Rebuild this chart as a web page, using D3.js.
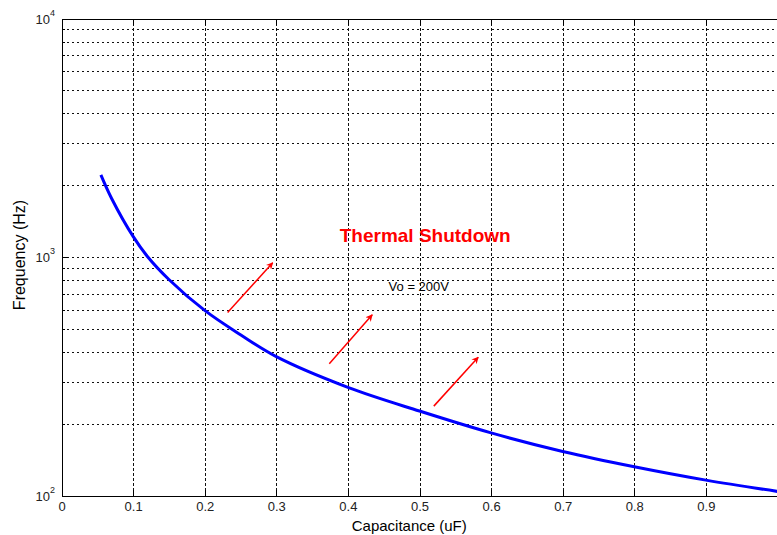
<!DOCTYPE html>
<html>
<head>
<meta charset="utf-8">
<script src="https://cdn.jsdelivr.net/npm/d3@7"></script>
<style>
  html, body { margin: 0; padding: 0; background: #fff; }
  svg { display: block; font-family: Arial, "Liberation Sans", sans-serif; }
  .grid line { stroke: #111; stroke-dasharray: 2.5,2.5; shape-rendering: crispEdges; }
  .grid path { display: none; }
  .ax path, .ax line { stroke: #000; shape-rendering: crispEdges; }
  .ax text { fill: #222; font-size: 13px; }
</style>
</head>
<body>
<svg id="chart" width="777" height="535"></svg>
<script>
// curve: capacitance (uF) vs frequency (Hz)
var capacitance = [0.055, 0.07, 0.1, 0.12, 0.15, 0.2, 0.25, 0.3, 0.4, 0.5, 0.6, 0.7, 0.8, 0.9, 1.0];
var frequency   = [2210, 1760, 1220, 1005, 805, 597, 472, 382, 284, 226, 183, 153, 132, 116, 104];

var xTicks = [0, 0.1, 0.2, 0.3, 0.4, 0.5, 0.6, 0.7, 0.8, 0.9];
var xTickLabels = ["0", "0.1", "0.2", "0.3", "0.4", "0.5", "0.6", "0.7", "0.8", "0.9"];
var yMajor = [100, 1000, 10000];
var yExponents = ["2", "3", "4"];
var yMinor = [200, 300, 400, 500, 600, 700, 800, 900,
              2000, 3000, 4000, 5000, 6000, 7000, 8000, 9000];

// arrow annotations, [capacitance, frequency] tail -> tip
var arrowTails = [[0.232, 585], [0.374, 357], [0.520, 237]];
var arrowTips  = [[0.295, 946], [0.434, 572], [0.582, 380]];

var svg = d3.select("#chart"),
    margin = { left: 61.5, top: 18.5, right: 777.5, bottom: 495.5 };

var x = d3.scaleLinear().domain([0, 1]).range([margin.left, margin.right]);
var y = d3.scaleLog().domain([100, 10000]).range([margin.bottom, margin.top]);

svg.append("rect").attr("width", 777).attr("height", 535).attr("fill", "#fff");

svg.append("defs").append("clipPath").attr("id", "plot")
   .append("rect")
   .attr("x", margin.left).attr("y", margin.top)
   .attr("width", margin.right - margin.left)
   .attr("height", margin.bottom - margin.top);

// grid
svg.append("g").attr("class", "grid")
   .attr("transform", "translate(0," + margin.bottom + ")")
   .call(d3.axisBottom(x).tickValues(xTicks.slice(1))
           .tickSize(-(margin.bottom - margin.top)).tickFormat(""));

svg.append("g").attr("class", "grid")
   .attr("transform", "translate(" + margin.left + ",0)")
   .call(d3.axisLeft(y).tickValues(yMinor.concat([1000]))
           .tickSize(-(margin.right - margin.left)).tickFormat(""));

// axes with inward ticks
var xAxis = svg.append("g").attr("class", "ax")
   .attr("transform", "translate(0," + margin.bottom + ")")
   .call(d3.axisBottom(x).tickValues(xTicks).tickSizeInner(-6).tickSizeOuter(0)
           .tickFormat(function (d, i) { return xTickLabels[i]; }));
xAxis.selectAll("text").attr("dy", "0.71em").attr("y", 6);

svg.append("g").attr("class", "ax")
   .attr("transform", "translate(0," + margin.top + ")")
   .call(d3.axisTop(x).tickValues(xTicks).tickSizeInner(-6).tickSizeOuter(0)
           .tickFormat(""));

svg.append("g").attr("class", "ax")
   .attr("transform", "translate(" + margin.left + ",0)")
   .call(d3.axisLeft(y).tickValues(yMajor).tickSizeInner(-6).tickSizeOuter(0)
           .tickFormat(""));

svg.append("g").attr("class", "ax")
   .attr("transform", "translate(" + margin.left + ",0)")
   .call(d3.axisLeft(y).tickValues(yMinor).tickSizeInner(-3).tickSizeOuter(0)
           .tickFormat(""));

var yLab = svg.append("g").selectAll("text").data(yMajor).enter()
   .append("text")
   .attr("x", margin.left - 26)
   .attr("y", function (d) { return y(d) + 5; })
   .attr("font-size", 13).attr("fill", "#222");
yLab.append("tspan").text("10");
yLab.append("tspan").attr("dy", -8).attr("font-size", 9)
    .text(function (d, i) { return yExponents[i]; });

// curve
var points = capacitance.map(function (c, i) { return [c, frequency[i]]; });
svg.append("path")
   .datum(points)
   .attr("clip-path", "url(#plot)")
   .attr("fill", "none")
   .attr("stroke", "#0000ff")
   .attr("stroke-width", 3)
   .attr("d", d3.line()
       .x(function (d) { return x(d[0]); })
       .y(function (d) { return y(d[1]); })
       .curve(d3.curveCatmullRom.alpha(0.5)));

// arrows
svg.select("defs").append("marker")
   .attr("id", "head").attr("viewBox", "0 0 10 10")
   .attr("refX", 9).attr("refY", 5)
   .attr("markerWidth", 7).attr("markerHeight", 7)
   .attr("markerUnits", "userSpaceOnUse")
   .attr("orient", "auto")
   .append("path").attr("d", "M0,0 L10,5 L0,10 L3,5 Z").attr("fill", "#ff0000");

svg.append("g").selectAll("line").data(arrowTails).enter()
   .append("line")
   .attr("x1", function (d) { return x(d[0]); })
   .attr("y1", function (d) { return y(d[1]); })
   .attr("x2", function (d, i) { return x(arrowTips[i][0]); })
   .attr("y2", function (d, i) { return y(arrowTips[i][1]); })
   .attr("stroke", "#ff0000")
   .attr("stroke-width", 1.5)
   .attr("marker-end", "url(#head)");

// annotation texts
svg.append("text")
   .attr("x", x(0.508)).attr("y", y(1161))
   .attr("text-anchor", "middle")
   .attr("font-size", 19).attr("font-weight", "bold")
   .attr("fill", "#ff0000")
   .text("Thermal Shutdown");

svg.append("text")
   .attr("x", x(0.499)).attr("y", y(723))
   .attr("text-anchor", "middle")
   .attr("font-size", 13)
   .attr("fill", "#000")
   .text("Vo = 200V");

// axis titles
svg.append("text")
   .attr("x", (margin.left + 777) / 2 - 10).attr("y", 531)
   .attr("text-anchor", "middle")
   .attr("font-size", 15).attr("fill", "#000")
   .text("Capacitance (uF)");

svg.append("text")
   .attr("transform", "translate(25,255) rotate(-90)")
   .attr("text-anchor", "middle")
   .attr("font-size", 16).attr("fill", "#000")
   .text("Frequency (Hz)");
</script>
</body>
</html>
